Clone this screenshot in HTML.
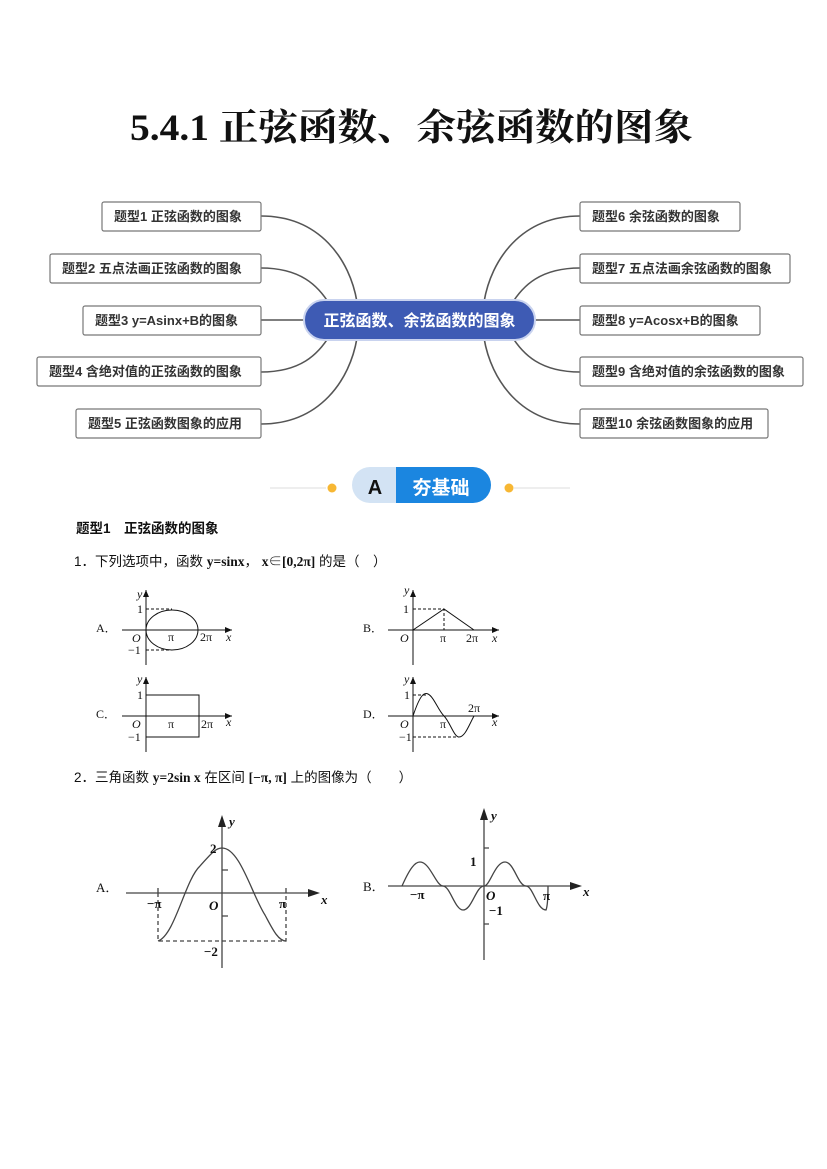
<!DOCTYPE html>
<html><head><meta charset="utf-8"><style>
body{margin:0;background:#fff}
svg{display:block}
.s{font-family:"Liberation Sans","Noto Sans CJK SC",sans-serif}
.r{font-family:"Liberation Serif","Noto Serif CJK SC",serif}
</style></head><body>
<svg width="827" height="1169" viewBox="0 0 827 1169" xmlns="http://www.w3.org/2000/svg">
<text x="130" y="140" textLength="563" lengthAdjust="spacingAndGlyphs" class="r" font-size="37" font-weight="bold" fill="#111">5.4.1  正弦函数、余弦函数的图象</text>
<g fill="none" stroke="#555" stroke-width="1.6">
<path d="M261 216 C320 216 350 260 357 302"/>
<path d="M261 268 C300 268 318 285 330 305"/>
<path d="M261 320 H304"/>
<path d="M261 372 C300 372 318 355 330 335"/>
<path d="M261 424 C320 424 350 380 357 338"/>
<path d="M580 216 C521 216 491 260 484 302"/>
<path d="M580 268 C541 268 523 285 511 305"/>
<path d="M580 320 H535"/>
<path d="M580 372 C541 372 523 355 511 335"/>
<path d="M580 424 C521 424 491 380 484 338"/>
</g>
<g fill="#fff" stroke="#777" stroke-width="1.2">
<rect x="102" y="202" width="159" height="29" rx="2"/>
<rect x="50" y="254" width="211" height="29" rx="2"/>
<rect x="83" y="306" width="178" height="29" rx="2"/>
<rect x="37" y="357" width="224" height="29" rx="2"/>
<rect x="76" y="409" width="185" height="29" rx="2"/>
<rect x="580" y="202" width="160" height="29" rx="2"/>
<rect x="580" y="254" width="210" height="29" rx="2"/>
<rect x="580" y="306" width="180" height="29" rx="2"/>
<rect x="580" y="357" width="223" height="29" rx="2"/>
<rect x="580" y="409" width="188" height="29" rx="2"/>
</g>
<g class="s" font-size="13" font-weight="bold" fill="#333">
<text x="114" y="221">题型1  正弦函数的图象</text>
<text x="62" y="273">题型2  五点法画正弦函数的图象</text>
<text x="95" y="325">题型3  y=Asinx+B的图象</text>
<text x="49" y="376">题型4  含绝对值的正弦函数的图象</text>
<text x="88" y="428">题型5  正弦函数图象的应用</text>
<text x="592" y="221">题型6  余弦函数的图象</text>
<text x="592" y="273">题型7  五点法画余弦函数的图象</text>
<text x="592" y="325">题型8  y=Acosx+B的图象</text>
<text x="592" y="376">题型9  含绝对值的余弦函数的图象</text>
<text x="592" y="428">题型10 余弦函数图象的应用</text>
</g>
<rect x="304" y="300" width="231" height="40" rx="20" fill="#3e5bb4" stroke="#c9d3ef" stroke-width="2"/>
<text x="419.5" y="326" text-anchor="middle" class="s" font-size="16" font-weight="bold" fill="#fff">正弦函数、余弦函数的图象</text>
<line x1="270" y1="488" x2="326" y2="488" stroke="#e8e8e8" stroke-width="1.5"/>
<line x1="514" y1="488" x2="570" y2="488" stroke="#e8e8e8" stroke-width="1.5"/>
<circle cx="332" cy="488" r="4.5" fill="#f7b733"/>
<circle cx="509" cy="488" r="4.5" fill="#f7b733"/>
<path d="M370 467 H396 V503 H370 A18 18 0 0 1 370 467Z" fill="#d3e3f4"/>
<path d="M396 467 H473 A18 18 0 0 1 473 503 H396Z" fill="#1b86e0"/>
<text x="375" y="494" text-anchor="middle" class="s" font-size="20" font-weight="bold" fill="#111">A</text>
<text x="441" y="494" text-anchor="middle" class="s" font-size="19" font-weight="bold" fill="#fff">夯基础</text>
<text x="76" y="533" class="s" font-size="13.5" font-weight="bold" fill="#111">题型1　正弦函数的图象</text>
<text x="74" y="566" class="s" font-size="13.5" fill="#111">1．下列选项中，函数 <tspan class="r" font-weight="bold">y=sinx</tspan>， <tspan class="r" font-weight="bold">x∈[0,2π]</tspan> 的是（　）</text>
<g stroke="#111" stroke-width="1" fill="none">
<line x1="122" y1="630" x2="232" y2="630"/><line x1="146" y1="665" x2="146" y2="590"/>
<ellipse cx="172" cy="630" rx="26" ry="20"/>
<path d="M146 609 H172 M146 650 H172" stroke-dasharray="3,2"/>
<line x1="388" y1="630" x2="499" y2="630"/><line x1="413" y1="665" x2="413" y2="590"/>
<path d="M413 630 L444 609 L474 630"/>
<path d="M413 609 H444 V630" stroke-dasharray="3,2"/>
<line x1="122" y1="716" x2="232" y2="716"/><line x1="146" y1="752" x2="146" y2="677"/>
<rect x="146" y="695" width="53" height="42"/>
<line x1="388" y1="716" x2="499" y2="716"/><line x1="413" y1="752" x2="413" y2="677"/>
<path d="M413 716 C420 695 424 692 428 694 C434 697 438 710 444 716 C450 722 454 737 459 737 C465 737 469 725 474 716"/>
<path d="M413 695 H428 M413 737 H459" stroke-dasharray="3,2"/>
</g>
<g fill="#111">
<path d="M232 630 l-7 -3 v6z M146 590 l-3 7 h6z M499 630 l-7 -3 v6z M413 590 l-3 7 h6z M232 716 l-7 -3 v6z M146 677 l-3 7 h6z M499 716 l-7 -3 v6z M413 677 l-3 7 h6z"/>
</g>
<g class="r" font-size="12" fill="#111">
<text x="96" y="632">A．</text><text x="137" y="598" font-style="italic">y</text><text x="137" y="613">1</text><text x="128" y="654">−1</text><text x="132" y="642" font-style="italic">O</text><text x="168" y="641">π</text><text x="200" y="641">2π</text><text x="226" y="641" font-style="italic">x</text>
<text x="363" y="632">B．</text><text x="404" y="594" font-style="italic">y</text><text x="403" y="613">1</text><text x="400" y="642" font-style="italic">O</text><text x="440" y="642">π</text><text x="466" y="642">2π</text><text x="492" y="642" font-style="italic">x</text>
<text x="96" y="718">C．</text><text x="137" y="683" font-style="italic">y</text><text x="137" y="699">1</text><text x="128" y="741">−1</text><text x="132" y="728" font-style="italic">O</text><text x="168" y="728">π</text><text x="201" y="728">2π</text><text x="226" y="726" font-style="italic">x</text>
<text x="363" y="718">D．</text><text x="404" y="683" font-style="italic">y</text><text x="404" y="699">1</text><text x="399" y="741">−1</text><text x="400" y="728" font-style="italic">O</text><text x="440" y="728">π</text><text x="468" y="712">2π</text><text x="492" y="726" font-style="italic">x</text>
</g>
<text x="74" y="782" class="s" font-size="13.5" fill="#111">2．三角函数 <tspan class="r" font-weight="bold">y=2sin x</tspan> 在区间 <tspan class="r" font-weight="bold">[−π, π]</tspan> 上的图像为（　　）</text>
<g stroke="#444" stroke-width="1.3" fill="none">
<line x1="126" y1="893" x2="310" y2="893"/><line x1="222" y1="968" x2="222" y2="825"/>
<path d="M158 941 C175 935 185 880 200 866 C210 855 215 848 222 848 C240 848 252 895 265 915 C272 928 278 941 286 941"/>
<path d="M158 893 V941 H286 V893" stroke-dasharray="4,3"/>
<path d="M158 888 v5 M286 888 v5 M222 870 h6 M222 916 h6"/>
<line x1="388" y1="886" x2="572" y2="886"/><line x1="484" y1="960" x2="484" y2="818"/>
<path d="M402 886 C410 868 415 862 420 862 C430 862 436 886 443 886 C450 886 455 910 463 910 C472 910 476 886 484 886 C490 886 495 862 505 862 C514 862 518 886 526 886 C533 886 537 910 546 910 C548 905 548 894 548 886"/>
<path d="M484 848 h5 M484 924 h5"/>
</g>
<g fill="#222"><path d="M320 893 l-12 -4 v8z M222 815 l-4 12 h8z M582 886 l-12 -4 v8z M484 808 l-4 12 h8z"/></g>
<g class="r" font-size="13" fill="#111" font-weight="bold">
<text x="96" y="892" font-weight="normal">A．</text><text x="229" y="826" font-style="italic">y</text><text x="210" y="853">2</text><text x="204" y="956">−2</text><text x="209" y="910" font-style="italic">O</text><text x="147" y="908">−π</text><text x="279" y="908">π</text><text x="321" y="904" font-style="italic">x</text>
<text x="363" y="891" font-weight="normal">B．</text><text x="491" y="820" font-style="italic">y</text><text x="470" y="866">1</text><text x="489" y="915">−1</text><text x="486" y="900" font-style="italic">O</text><text x="410" y="899">−π</text><text x="543" y="900">π</text><text x="583" y="896" font-style="italic">x</text>
</g>
</svg>
</body></html>
